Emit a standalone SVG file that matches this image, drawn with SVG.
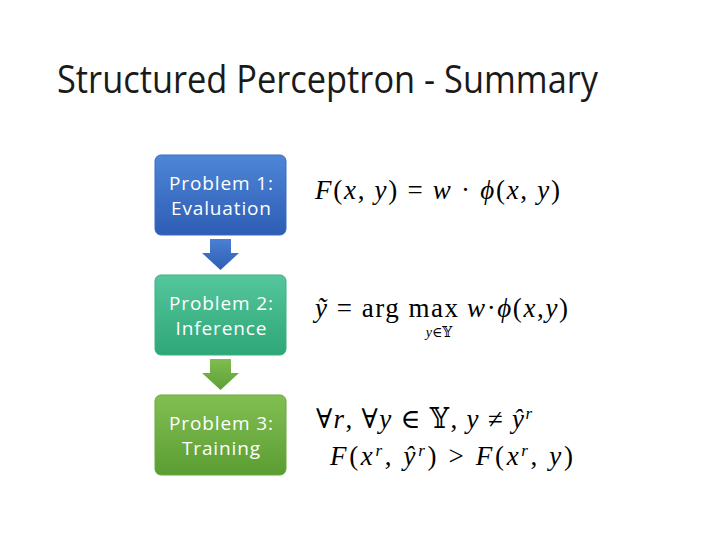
<svg xmlns="http://www.w3.org/2000/svg" width="720" height="540" viewBox="0 0 720 540">
  <defs>
    <linearGradient id="gBlue" x1="0" y1="0" x2="0" y2="1">
      <stop offset="0" stop-color="#4e86d7"/>
      <stop offset="1" stop-color="#2d5db4"/>
    </linearGradient>
    <linearGradient id="gTeal" x1="0" y1="0" x2="0" y2="1">
      <stop offset="0" stop-color="#55c69c"/>
      <stop offset="1" stop-color="#2ea777"/>
    </linearGradient>
    <linearGradient id="gGreen" x1="0" y1="0" x2="0" y2="1">
      <stop offset="0" stop-color="#82bf52"/>
      <stop offset="1" stop-color="#5b9d33"/>
    </linearGradient>
    <linearGradient id="aBlue" x1="0" y1="0" x2="0" y2="1">
      <stop offset="0" stop-color="#4a80d3"/>
      <stop offset="1" stop-color="#2f5eb6"/>
    </linearGradient>
    <linearGradient id="aGreen" x1="0" y1="0" x2="0" y2="1">
      <stop offset="0" stop-color="#7fbd4f"/>
      <stop offset="1" stop-color="#5e9f38"/>
    </linearGradient>
  </defs>
  <style>
    .title { font-family: "Open Sans", "Liberation Sans", sans-serif; font-size: 38px; fill: #1a1a1a; }
    .box { stroke-width: 1; }
    .lbl { font-family: "Open Sans", "Liberation Sans", sans-serif; font-size: 19px; fill: #ffffff; text-anchor: middle; }
    .math { font-family: "Liberation Serif", "DejaVu Serif", serif; font-size: 27px; fill: #000000; }
    .sub { font-family: "Liberation Serif", "DejaVu Serif", serif; font-size: 14px; fill: #000000; }
    .i { font-style: italic; }
  </style>
  <rect width="720" height="540" fill="#ffffff"/>

  <text class="title" x="57" y="93" textLength="541" lengthAdjust="spacingAndGlyphs">Structured Perceptron - Summary</text>

  <g id="connectors">
    <path d="M210,239 H231 V253 H239 L220.5,270 L202,253 H210 Z" fill="url(#aBlue)"/>
    <path d="M210,359 H231 V373 H239 L220.5,390 L202,373 H210 Z" fill="url(#aGreen)"/>
  </g>

  <g id="problem1">
    <rect class="box" x="155" y="155" width="131" height="80" rx="6" fill="url(#gBlue)" stroke="#3a6cc0"/>
    <text class="lbl" x="221" y="190" textLength="104">Problem 1:</text>
    <text class="lbl" x="221" y="215" textLength="100">Evaluation</text>
  </g>
  <g id="problem2">
    <rect class="box" x="155" y="275" width="131" height="80" rx="6" fill="url(#gTeal)" stroke="#3bb084"/>
    <text class="lbl" x="221" y="310" textLength="104">Problem 2:</text>
    <text class="lbl" x="221" y="335" textLength="91">Inference</text>
  </g>
  <g id="problem3">
    <rect class="box" x="155" y="395" width="131" height="80" rx="6" fill="url(#gGreen)" stroke="#68a83f"/>
    <text class="lbl" x="221" y="430" textLength="104">Problem 3:</text>
    <text class="lbl" x="221" y="455" textLength="78">Training</text>
  </g>

  <g id="eq1">
    <text class="math" x="315" y="199" textLength="245"><tspan class="i">F</tspan>(<tspan class="i">x</tspan>, <tspan class="i">y</tspan>) = <tspan class="i">w</tspan> · <tspan class="i">ϕ</tspan>(<tspan class="i">x</tspan>, <tspan class="i">y</tspan>)</text>
  </g>

  <g id="eq2">
    <text class="math" x="315" y="317" textLength="143"><tspan class="i">ỹ</tspan> = arg max</text>
    <text class="math" x="467" y="317" textLength="101"><tspan class="i">w</tspan>·<tspan class="i">ϕ</tspan>(<tspan class="i">x</tspan>,<tspan class="i">y</tspan>)</text>
    <text class="sub" x="439" y="337" text-anchor="middle"><tspan class="i">y</tspan>∈𝕐</text>
  </g>

  <g id="eq3">
    <text class="math" x="316" y="428" textLength="216">∀<tspan class="i">r</tspan>, ∀<tspan class="i">y</tspan> ∈ 𝕐, <tspan class="i">y</tspan> ≠ <tspan class="i">ŷ</tspan><tspan class="i" font-size="17" dy="-9">r</tspan></text>
    <text class="math" x="330" y="465" textLength="243"><tspan class="i">F</tspan>(<tspan class="i">x</tspan><tspan class="i" font-size="17" dy="-9">r</tspan><tspan dy="9">, </tspan><tspan class="i">ŷ</tspan><tspan class="i" font-size="17" dy="-9">r</tspan><tspan dy="9">) &gt; </tspan><tspan class="i">F</tspan>(<tspan class="i">x</tspan><tspan class="i" font-size="17" dy="-9">r</tspan><tspan dy="9">, </tspan><tspan class="i">y</tspan>)</text>
  </g>
</svg>
